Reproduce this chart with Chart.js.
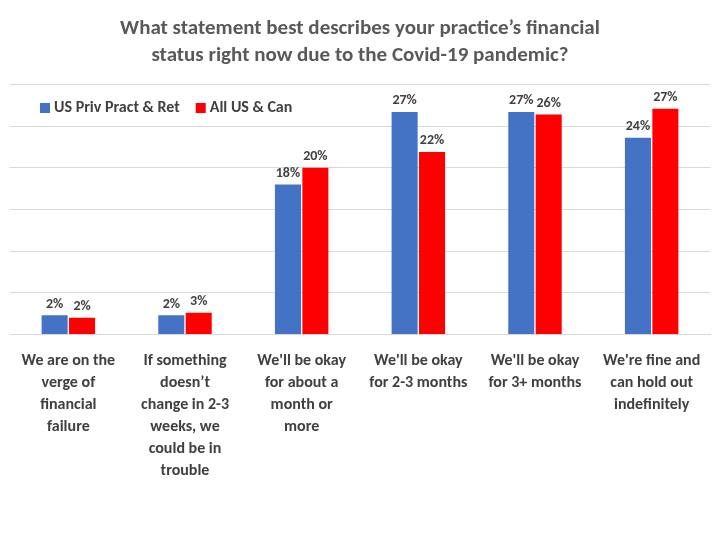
<!DOCTYPE html>
<html lang="en">
  <head>
    <meta charset="UTF-8" />
    <title>Covid-19 practice status</title>
    <script src="https://cdn.jsdelivr.net/npm/chart.js"></script>
    <style>
      body { margin: 0; background: #fff; }
      #wrap { width: 720px; height: 540px; }
    </style>
  </head>
  <body>
    <div id="wrap"><canvas id="myChart"></canvas></div>
    <script>
      const categories = [
        ["We are on the", "verge of", "financial", "failure"],
        ["If something", "doesn\u2019t", "change in 2-3", "weeks, we", "could be in", "trouble"],
        ["We'll be okay", "for about a", "month or", "more"],
        ["We'll be okay", "for 2-3 months"],
        ["We'll be okay", "for 3+ months"],
        ["We're fine and", "can hold out", "indefinitely"],
      ];
      const seriesNames = ["US Priv Pract & Ret", "All US & Can"];
      const privPract = [2.3, 2.3, 18.0, 26.7, 26.7, 23.6];
      const allUsCan = [2.0, 2.6, 20.0, 21.9, 26.4, 27.1];
      const colors = ["#4472C4", "#FF0000"];

      const font = "Calibri, Carlito, 'Open Sans', sans-serif";

      // value labels above bars + legend drawn inside the plot
      const extras = {
        id: "extras",
        afterDatasetsDraw(chart) {
          const ctx = chart.ctx;
          ctx.save();
          ctx.font = "bold 14px " + font;
          ctx.fillStyle = "#404040";
          ctx.textAlign = "center";
          ctx.textBaseline = "bottom";
          chart.data.datasets.forEach((ds, i) => {
            chart.getDatasetMeta(i).data.forEach((bar, j) => {
              ctx.fillText(Math.round(ds.data[j]) + "%", bar.x, bar.y - 4);
            });
          });
          ctx.textAlign = "left";
          ctx.textBaseline = "middle";
          ctx.font = "600 16px " + font;
          let x = 40;
          const y = 108;
          seriesNames.forEach((name, i) => {
            ctx.fillStyle = colors[i];
            ctx.fillRect(x, y - 5, 10, 10);
            ctx.fillStyle = "#404040";
            ctx.fillText(name, x + 14, y);
            x += ctx.measureText(name).width + 30;
          });
          ctx.restore();
        },
      };

      new Chart(document.getElementById("myChart"), {
        type: "bar",
        data: {
          labels: categories,
          datasets: seriesNames.map((name, i) => ({
            label: name,
            data: i === 0 ? privPract : allUsCan,
            backgroundColor: colors[i],
            categoryPercentage: 0.47,
            barPercentage: 0.95,
          })),
        },
        options: {
          responsive: true,
          maintainAspectRatio: false,
          animation: false,
          layout: { padding: { left: 10, right: 10, top: 0, bottom: 50 } },
          plugins: {
            legend: { display: false },
            tooltip: { enabled: false },
            title: {
              display: true,
              text: [
                "What statement best describes your practice\u2019s financial",
                "status right now due to the Covid-19 pandemic?",
              ],
              color: "#595959",
              font: { family: font, size: 21, weight: "bold", lineHeight: 1.25 },
              padding: { top: 16, bottom: 16 },
            },
          },
          scales: {
            x: {
              grid: { display: false },
              border: { color: "#d9d9d9" },
              ticks: {
                color: "#404040",
                maxRotation: 0,
                autoSkip: false,
                padding: 8,
                font: { family: font, size: 16, weight: "600", lineHeight: 1.37 },
              },
            },
            y: {
              min: 0,
              max: 30,
              ticks: { display: false, stepSize: 5 },
              border: { display: false },
              grid: { color: "#d9d9d9", drawTicks: false },
            },
          },
        },
        plugins: [extras],
      });
    </script>
  </body>
</html>
